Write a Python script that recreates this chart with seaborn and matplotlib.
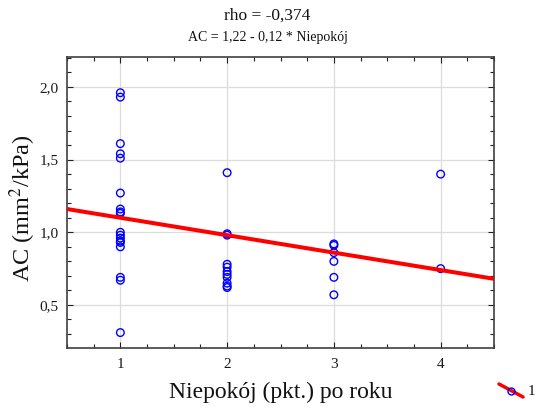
import matplotlib
matplotlib.use("Agg")
import matplotlib.pyplot as plt
from matplotlib.lines import Line2D
from matplotlib.ticker import MultipleLocator, FuncFormatter
import numpy as np
import pandas as pd
import seaborn as sns

# Anxiety score (points) after one year, and arterial compliance AC (mm^2/kPa)
niepokoj = [1] * 18 + [2] * 11 + [3] * 6 + [4] * 2
ac = [
    1.96, 1.93, 1.61, 1.54, 1.51, 1.27, 1.16, 1.14, 1.13,
    1.00, 0.98, 0.96, 0.94, 0.93, 0.90, 0.69, 0.67, 0.31,
    1.41, 0.99, 0.98, 0.78, 0.76, 0.73, 0.71, 0.69, 0.65, 0.63, 0.62,
    0.92, 0.91, 0.86, 0.80, 0.69, 0.57,
    1.40, 0.75,
]
rho = -0.374
intercept = 1.22
slope = -0.12
x_ticks = [1, 2, 3, 4]
y_ticks = [0.5, 1.0, 1.5, 2.0]

df = pd.DataFrame({"Niepokoj": niepokoj, "AC": ac})

sns.set_theme(style="whitegrid")
plt.rcParams["font.family"] = ["Liberation Serif", "DejaVu Serif"]
plt.rcParams["mathtext.fontset"] = "stix"

fig = plt.figure(figsize=(5.35, 4.07), dpi=100)
ax = fig.add_axes([0.1252, 0.145, 0.7982, 0.715])

xlim = (0.5, 4.5)
fit = pd.DataFrame({"x": list(xlim)})
fit["y"] = intercept + slope * fit["x"]

sns.scatterplot(data=df, x="Niepokoj", y="AC", ax=ax, marker="o", s=30,
                fc="none", ec="#0000ff", linewidth=1.0, zorder=3)
sns.lineplot(data=fit, x="x", y="y", ax=ax, color="#ff0000", linewidth=2.9,
             zorder=4)

ax.set_xlim(*xlim)
ax.set_ylim(0.204, 2.206)
ax.set_xticks(x_ticks)
ax.set_yticks(y_ticks)
ax.xaxis.set_minor_locator(MultipleLocator(0.25))
ax.yaxis.set_minor_locator(MultipleLocator(0.1))
ax.yaxis.set_major_formatter(FuncFormatter(lambda v, p: f"{v:.1f}".replace(".", ",")))
ax.xaxis.set_major_formatter(FuncFormatter(lambda v, p: f"{int(v)}"))

ax.grid(True, which="major", color="#dcdcdc", linewidth=0.9)
ax.grid(False, which="minor")
ax.set_facecolor("white")
for s in ax.spines.values():
    s.set_color("#404040")
    s.set_linewidth(1.2)

ax.tick_params(which="both", direction="in", top=True, right=True,
               bottom=True, left=True, color="#202020", width=0.8)
ax.tick_params(which="major", length=4, labelsize=11, labelcolor="#1a1a1a", pad=7)
ax.tick_params(axis="y", which="major", pad=6)
ax.tick_params(which="minor", length=3)

ax.set_xlabel("Niepokój (pkt.) po roku", fontsize=17, labelpad=8, color="#111111")
ax.set_ylabel("AC (mm$^2$/kPa)", fontsize=17.5, color="#111111")
ax.yaxis.set_label_coords(-0.068, 0.482)

fig.text(0.5, 0.962, f"rho = {rho:.3f}".replace(".", ","), ha="center",
         va="center", fontsize=12.5, color="#111111")
eq = f"AC = {intercept:.2f} - {abs(slope):.2f} * Niepokój".replace(".", ",")
fig.text(0.5, 0.908, eq, ha="center", va="center", fontsize=10, color="#111111")

# Legend key: slanted red line with an open blue marker
fig.add_artist(Line2D([0.9327, 0.9776], [0.0565, 0.0246], transform=fig.transFigure,
                      color="#ff0000", linewidth=2.5))
fig.add_artist(Line2D([0.9551], [0.0405], transform=fig.transFigure, marker="o",
                      markersize=5, mfc="none", mec="#0000ff", mew=1.0,
                      linestyle="none"))
fig.text(0.987, 0.037, "1", ha="left", va="center", fontsize=11, color="#111111")

fig.savefig("out.png", dpi=100, facecolor="white")
